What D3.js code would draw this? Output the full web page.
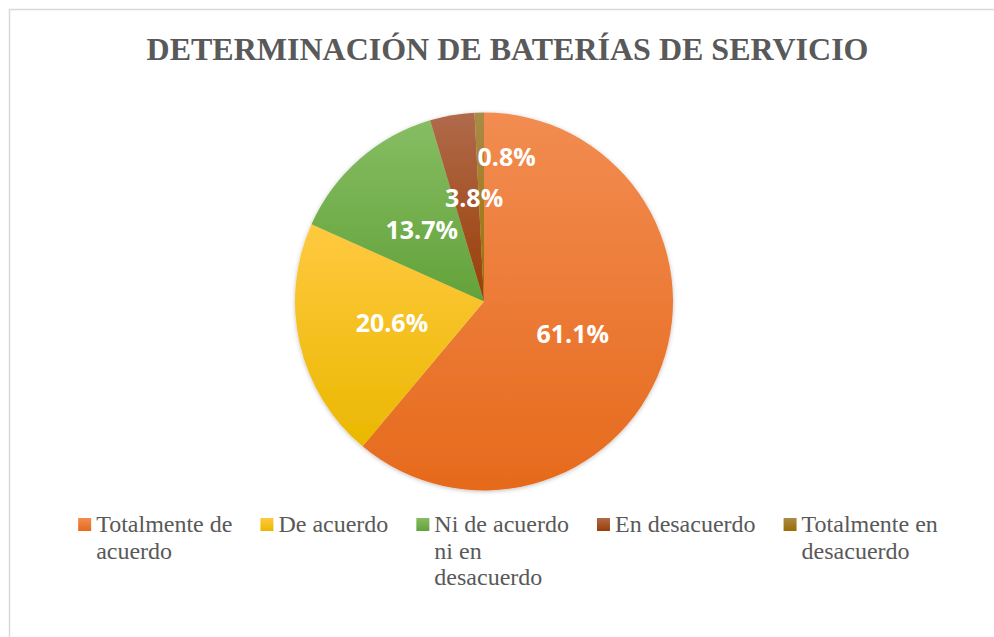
<!DOCTYPE html>
<html>
<head>
<meta charset="utf-8">
<script src="https://cdn.jsdelivr.net/npm/d3@7"></script>
<style>
  body { margin: 0; background: #ffffff; }
</style>
</head>
<body>
<div id="chart"></div>
<script>
const categories = ["Totalmente de acuerdo", "De acuerdo", "Ni de acuerdo ni en desacuerdo", "En desacuerdo", "Totalmente en desacuerdo"];
const percentages = [61.1, 20.6, 13.7, 3.8, 0.8];
const title = "DETERMINACIÓN DE BATERÍAS DE SERVICIO";

// light / dark ends of each slice gradient
const colorsTop = ["#f28c51", "#ffc940", "#86bd63", "#b06a4b", "#a98b48"];
const colorsBottom = ["#e66a1c", "#eab800", "#63a23a", "#9a3e06", "#9a7000"];
// small slices get their labels pushed apart
const labelNudge = [[0, 0], [0, 0], [0, 0], [6, -10], [25, -50]];

const width = 994, height = 637;
const cx = 484, cy = 301.5, radius = 189;

const svg = d3.select("#chart").append("svg")
  .attr("width", width)
  .attr("height", height);

const defs = svg.append("defs");

colorsTop.forEach((c, i) => {
  const g = defs.append("linearGradient")
    .attr("id", `grad${i}`)
    .attr("x1", 0).attr("y1", 0).attr("x2", 0).attr("y2", 1);
  g.append("stop").attr("offset", "0%").attr("stop-color", c);
  g.append("stop").attr("offset", "100%").attr("stop-color", colorsBottom[i]);
});

const shadow = defs.append("filter")
  .attr("id", "shadow")
  .attr("x", "-10%").attr("y", "-10%").attr("width", "120%").attr("height", "120%");
shadow.append("feDropShadow")
  .attr("dx", 0).attr("dy", 1)
  .attr("stdDeviation", 2)
  .attr("flood-color", "#000000")
  .attr("flood-opacity", 0.25);

// chart area border
svg.append("rect")
  .attr("x", 9.5).attr("y", 9.5)
  .attr("width", 1000).attr("height", 640)
  .attr("fill", "#ffffff")
  .attr("stroke", "#d9d9d9")
  .attr("stroke-width", 1.5);

svg.append("text")
  .attr("x", 507.5)
  .attr("y", 59.5)
  .attr("text-anchor", "middle")
  .style("font", "bold 32px 'Liberation Serif', 'Times New Roman', serif")
  .attr("fill", "#595959")
  .text(title);

const pie = d3.pie().sort(null).value(d => d);
const arcs = pie(percentages);
const arc = d3.arc().innerRadius(0).outerRadius(radius);

const g = svg.append("g").attr("transform", `translate(${cx},${cy})`);

g.append("g")
  .attr("filter", "url(#shadow)")
  .selectAll("path")
  .data(arcs).enter()
  .append("path")
  .attr("d", arc)
  .attr("fill", (d, i) => `url(#grad${i})`);

g.selectAll("text.pct")
  .data(arcs).enter()
  .append("text")
  .classed("pct", true)
  .attr("x", (d, i) => arc.centroid(d)[0] + labelNudge[i][0])
  .attr("y", (d, i) => arc.centroid(d)[1] + labelNudge[i][1])
  .attr("dy", "0.36em")
  .attr("text-anchor", "middle")
  .style("font", "bold 25px 'Open Sans', sans-serif")
  .attr("fill", "#ffffff")
  .text(d => d3.format(".1f")(d.data) + "%");

// legend, flowed left to right with wrapped labels
const legendFont = "24px 'Liberation Serif', 'Times New Roman', serif";
const wrapWidth = 150, lineHeight = 26.5, itemGap = 28, swatch = 13, swatchGap = 5;
const legend = svg.append("g");

const measure = legend.append("text").style("font", legendFont);
function textWidth(s) {
  measure.text(s);
  return measure.node().getComputedTextLength();
}

const items = categories.map(name => {
  const words = name.split(" ");
  const lines = [];
  let line = "";
  words.forEach(w => {
    const test = line ? line + " " + w : w;
    if (line && textWidth(test) > wrapWidth) {
      lines.push(line);
      line = w;
    } else {
      line = test;
    }
  });
  lines.push(line);
  const w = d3.max(lines, l => textWidth(l));
  return { lines, width: swatch + swatchGap + w };
});
measure.remove();

const total = d3.sum(items, d => d.width) + itemGap * (items.length - 1);
let x = 508 - total / 2;
const legendTop = 518, baseline = 532;

items.forEach((item, i) => {
  legend.append("rect")
    .attr("x", x).attr("y", legendTop)
    .attr("width", swatch).attr("height", swatch)
    .attr("fill", `url(#grad${i})`);

  const t = legend.append("text")
    .attr("x", x + swatch + swatchGap)
    .attr("y", baseline)
    .style("font", legendFont)
    .attr("fill", "#595959");

  t.selectAll("tspan")
    .data(item.lines).enter()
    .append("tspan")
    .attr("x", x + swatch + swatchGap)
    .attr("dy", (l, j) => j === 0 ? 0 : lineHeight)
    .text(l => l);

  x += item.width + itemGap;
});
</script>
</body>
</html>
